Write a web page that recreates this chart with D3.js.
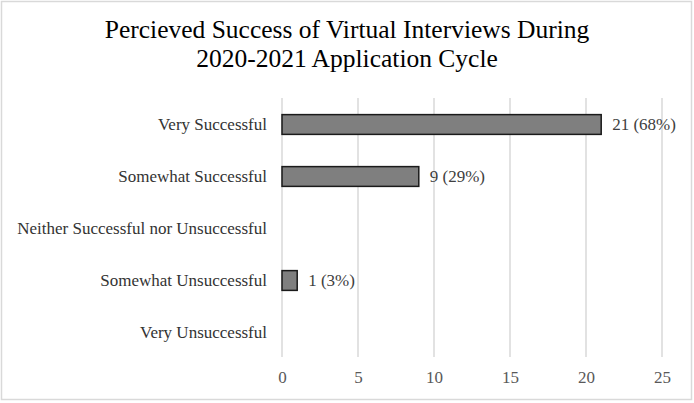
<!DOCTYPE html>
<html>
<head>
<meta charset="utf-8">
<script src="https://cdn.jsdelivr.net/npm/d3@7"></script>
<style>
  body { margin: 0; background: #fff; }
  text { font-family: "Liberation Serif", "Times New Roman", serif; }
</style>
</head>
<body>
<div id="chart"></div>
<script>
// Survey responses
const categories = ['Very Successful', 'Somewhat Successful', 'Neither Successful nor Unsuccessful',
                    'Somewhat Unsuccessful', 'Very Unsuccessful'];
const counts = [21, 9, 0, 1, 0];
const percents = [68, 29, 0, 3, 0];
const xTicks = [0, 5, 10, 15, 20, 25];
const titleLines = ['Percieved Success of Virtual Interviews During', '2020-2021 Application Cycle'];

const width = 694, height = 403;

const svg = d3.select('#chart')
              .append('svg')
              .attr('width', width)
              .attr('height', height);

// outer frame
svg.append('rect')
   .attr('x', 1.5).attr('y', 1.5)
   .attr('width', width - 4).attr('height', height - 5)
   .style('fill', '#fff')
   .style('stroke', '#d9d9d9')
   .style('stroke-width', 1.5);

const scaleX = d3.scaleLinear().domain([0, 25]).range([282, 662]);
const scaleY = d3.scaleBand().domain(categories).range([98.5, 358.5]).paddingInner(0.62).paddingOuter(0.31);

// gridlines
svg.append('g')
   .selectAll('line')
   .data(xTicks)
   .enter()
   .append('line')
   .attr('x1', d => scaleX(d)).attr('x2', d => scaleX(d))
   .attr('y1', 98).attr('y2', 357)
   .style('stroke', '#d9d9d9')
   .style('stroke-width', 1.5);

// x axis tick labels
const xAxis = d3.axisBottom(scaleX).tickValues(xTicks).tickSize(0).tickPadding(0);
const xAxisGroup = svg.append('g')
                      .attr('class', 'x axis')
                      .attr('transform', 'translate(0,371)')
                      .call(xAxis);
xAxisGroup.select('.domain').remove();
xAxisGroup.selectAll('text')
          .style('font-size', '17px')
          .style('fill', '#595959')
          .style('font-family', '"Liberation Serif", serif');

// y axis category labels
const yAxis = d3.axisLeft(scaleY).tickSize(0).tickPadding(15);
const yAxisGroup = svg.append('g')
                      .attr('class', 'y axis')
                      .attr('transform', 'translate(282,0)')
                      .call(yAxis);
yAxisGroup.select('.domain').remove();
yAxisGroup.selectAll('text')
          .style('font-size', '17px')
          .style('fill', '#333333')
          .style('font-family', '"Liberation Serif", serif');

const data = categories.map((c, i) => ({cat: c, n: counts[i], pct: percents[i]}));

// bars
svg.selectAll('.bar')
   .data(data.filter(d => d.n > 0))
   .enter()
   .append('rect')
   .attr('class', 'bar')
   .attr('x', scaleX(0))
   .attr('y', d => scaleY(d.cat))
   .attr('width', d => scaleX(d.n) - scaleX(0))
   .attr('height', scaleY.bandwidth())
   .style('fill', '#7f7f7f')
   .style('stroke', '#1a1a1a')
   .style('stroke-width', 1.5);

// value labels
svg.selectAll('.val')
   .data(data.filter(d => d.n > 0))
   .enter()
   .append('text')
   .attr('class', 'val')
   .attr('x', d => scaleX(d.n) + 11)
   .attr('y', d => scaleY(d.cat) + scaleY.bandwidth() / 2)
   .attr('dy', '0.35em')
   .style('font-size', '17px')
   .style('fill', '#404040')
   .text(d => d.n + ' (' + d.pct + '%)');

// title, one text per line
svg.selectAll('.title')
   .data(titleLines)
   .enter()
   .append('text')
   .attr('class', 'title')
   .attr('x', 347)
   .attr('y', (d, i) => 38 + i * 28.5)
   .style('text-anchor', 'middle')
   .style('font-size', '25.5px')
   .style('fill', '#000')
   .text(d => d);
</script>
</body>
</html>
